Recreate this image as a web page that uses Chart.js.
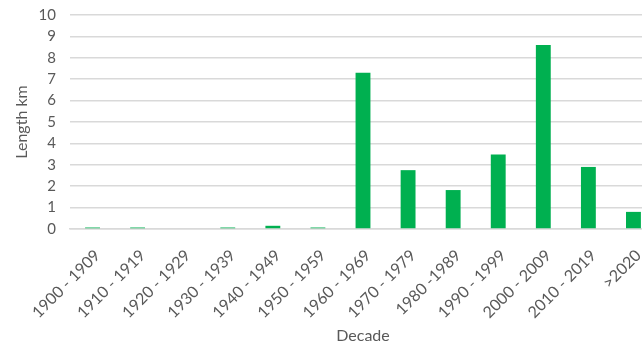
<!DOCTYPE html>
<html lang="en">
<head>
    <meta charset="UTF-8">
    <title>Length by Decade</title>
    <script src="https://cdn.jsdelivr.net/npm/chart.js"></script>
    <style>
        html, body { margin: 0; padding: 0; overflow: hidden; background: #fff; }
        #wrap { width: 660px; height: 347px; }
    </style>
</head>
<body>
    <div id="wrap"><canvas id="decadeChart" width="660" height="347"></canvas></div>

    <script>
        const decades = ['1900 - 1909', '1910 - 1919', '1920 - 1929', '1930 - 1939', '1940 - 1949',
            '1950 - 1959', '1960 - 1969', '1970 - 1979', '1980 -1989', '1990 - 1999',
            '2000 - 2009', '2010 - 2019', '>2020'];
        const lengthKm = [0.07, 0.07, 0, 0.07, 0.15, 0.07, 7.3, 2.75, 1.82, 3.48, 8.6, 2.9, 0.8];
        const yTicks = [0, 1, 2, 3, 4, 5, 6, 7, 8, 9, 10];

        const grey = '#595959';
        Chart.defaults.font.family = 'Lato, "Open Sans", sans-serif';
        Chart.defaults.color = grey;

        const decadeChart = new Chart(document.getElementById('decadeChart'), {
            type: 'bar',
            data: {
                labels: decades,
                datasets: [{
                    label: 'Length km',
                    data: lengthKm,
                    backgroundColor: '#00b050',
                    barPercentage: 0.33,
                    categoryPercentage: 1
                }]
            },
            options: {
                responsive: false,
                animation: false,
                layout: { padding: { top: 15, left: 12, right: 4, bottom: 2 } },
                plugins: { legend: { display: false }, tooltip: { enabled: false } },
                scales: {
                    x: {
                        afterFit: axis => {
                            axis.height = 116;
                            axis.paddingLeft = 0;
                            axis.paddingRight = 0;
                        },
                        grid: { display: false },
                        border: { color: '#d9d9d9', width: 1.5 },
                        ticks: { maxRotation: 45, minRotation: 45, padding: 9, labelOffset: 5, font: { size: 16 }, autoSkip: false },
                        title: { display: true, text: 'Decade', font: { size: 16 }, padding: 0 }
                    },
                    y: {
                        min: 0,
                        max: 10,
                        afterBuildTicks: axis => { axis.ticks = yTicks.map(v => ({ value: v })); },
                        afterFit: axis => {
                            axis.width = 58;
                            axis.paddingTop = 0;
                            axis.paddingBottom = 0;
                        },
                        grid: { color: '#d9d9d9', lineWidth: 1.5, drawTicks: false },
                        border: { display: false },
                        ticks: { padding: 14, font: { size: 15 }, autoSkip: false },
                        title: { display: true, text: 'Length km', font: { size: 16 }, padding: 0 }
                    }
                }
            }
        });
    </script>
</body>
</html>
